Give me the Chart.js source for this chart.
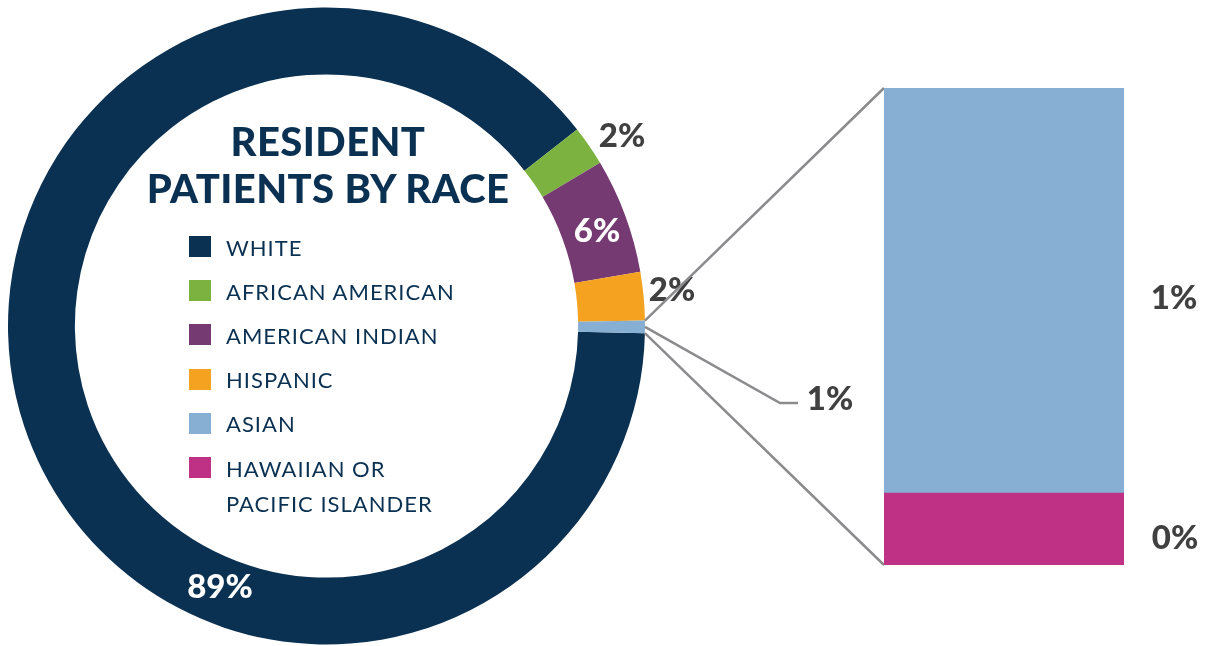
<!DOCTYPE html>
<html>

<head>
    <meta charset="utf-8">
    <script src="https://cdn.jsdelivr.net/npm/chart.js@4.4.0/dist/chart.umd.min.js"></script>
    <style>
        body { margin: 0; background: #fff; }
        #wrap { position: relative; width: 1209px; height: 646px; overflow: hidden; font-family: Lato, sans-serif; }
        #pieBox { position: absolute; left: 0; top: 0; width: 1209px; height: 646px; }
        #barBox { position: absolute; left: 884px; top: 88px; width: 240px; height: 477px; }
        #title { position: absolute; left: 128px; width: 400px; top: 118px; text-align: center;
            color: #0b3152; font-weight: 900; font-size: 40px; line-height: 47px; letter-spacing: 0.4px; }
        #legend { position: absolute; left: 189px; top: 236px; color: #0b3152; font-size: 22px; }
        .item { position: absolute; left: 0; width: 300px; height: 44px; letter-spacing: 1px; }
        .item .sw { position: absolute; left: 0; top: 0; width: 22px; height: 21px; }
        .item .txt { position: absolute; left: 37px; top: -6.5px; line-height: 35px; white-space: nowrap; }
    </style>
</head>

<body>
    <div id="wrap">
        <div id="pieBox"><canvas id="pieChart"></canvas></div>
        <div id="barBox"><canvas id="barChart"></canvas></div>
        <div id="title">RESIDENT<br>PATIENTS BY RACE</div>
        <div id="legend"></div>
    </div>
    <script>
        // legend entries
        const legendNames = ["WHITE", "AFRICAN AMERICAN", "AMERICAN INDIAN", "HISPANIC", "ASIAN", "HAWAIIAN OR<br>PACIFIC ISLANDER"];
        const legendColors = ["#0b3152", "#7cb23f", "#753a72", "#f4a21f", "#86afd3", "#be3184"];

        // doughnut: last slice is asian + hawaiian together
        const pieLabels = ["White", "African American", "American Indian", "Hispanic", "Asian / Hawaiian"];
        const pieValues = [89.05, 2.03, 5.83, 2.46, 0.63];
        const pieColors = ["#0b3152", "#7cb23f", "#753a72", "#f4a21f", "#86afd3"];

        // split bar of the small slice
        const barLabels = ["Hawaiian or Pacific Islander", "Asian"];
        const barValues = [0.095, 0.535];
        const barColors = ["#be3184", "#86afd3"];

        const pct = v => Math.round(v) + "%";

        // build the legend
        let legendHtml = "";
        for (let i = 0; i < legendNames.length; i++) {
            legendHtml += '<div class="item" style="top:' + (i * 44.2) + 'px"><span class="sw" style="background:' + legendColors[i] +
                '"></span><div class="txt">' + legendNames[i] + '</div></div>';
        }
        document.getElementById("legend").innerHTML = legendHtml;

        const bar = { left: 884, top: 88, bottom: 565, right: 1124 };

        const labelPlugin = {
            id: "sliceLabels",
            afterDraw(chart) {
                const ctx = chart.ctx;
                const arcs = chart.getDatasetMeta(0).data;
                ctx.save();
                ctx.font = "900 33px Lato";
                ctx.textBaseline = "middle";
                ctx.textAlign = "center";

                // labels: white ones on the ring, dark ones outside
                ctx.fillStyle = "#ffffff";
                ctx.fillText(pct(pieValues[0]), 220, 587);
                ctx.fillText(pct(pieValues[2]), 597, 231);
                ctx.fillStyle = "#404040";
                ctx.fillText(pct(pieValues[1]), 622, 136);
                ctx.fillText(pct(pieValues[3]), 672, 290);

                // connectors from the small slice to the bar
                const a = arcs[4];
                const R = a.outerRadius;
                const x0 = a.x + R * Math.cos(a.startAngle), y0 = a.y + R * Math.sin(a.startAngle);
                const x1 = a.x + R * Math.cos(a.endAngle), y1 = a.y + R * Math.sin(a.endAngle);
                const mid = (a.startAngle + a.endAngle) / 2;
                ctx.strokeStyle = "#8b8b8e";
                ctx.lineWidth = 2.5;
                ctx.beginPath();
                ctx.moveTo(x0, y0); ctx.lineTo(bar.left, bar.top);
                ctx.moveTo(x1, y1); ctx.lineTo(bar.left, bar.bottom);
                ctx.moveTo(a.x + R * Math.cos(mid), a.y + R * Math.sin(mid));
                ctx.lineTo(780, 403); ctx.lineTo(798, 403);
                ctx.stroke();

                ctx.fillText(pct(pieValues[4]), 830, 399);
                ctx.fillText(pct(barValues[1]), 1174, 298);
                ctx.fillText(pct(barValues[0]), 1175, 538);
                ctx.restore();
            }
        };

        new Chart(document.getElementById("pieChart"), {
            type: "doughnut",
            data: {
                labels: pieLabels,
                datasets: [{
                    data: pieValues,
                    backgroundColor: pieColors,
                    borderWidth: 0
                }]
            },
            options: {
                responsive: true,
                maintainAspectRatio: false,
                animation: false,
                rotation: 91.3,
                cutout: "79%",
                layout: { padding: { left: 8, top: 7.5, right: 564, bottom: 1.5 } },
                plugins: {
                    legend: { display: false },
                    tooltip: { enabled: false }
                }
            },
            plugins: [labelPlugin]
        });

        new Chart(document.getElementById("barChart"), {
            type: "bar",
            data: {
                labels: [""],
                datasets: barValues.map((v, i) => ({
                    label: barLabels[i],
                    data: [v],
                    backgroundColor: barColors[i],
                    borderWidth: 0,
                    barPercentage: 1,
                    categoryPercentage: 1
                }))
            },
            options: {
                responsive: true,
                maintainAspectRatio: false,
                animation: false,
                layout: { padding: 0 },
                scales: {
                    x: { display: false, stacked: true },
                    y: { display: false, stacked: true, min: 0, max: 0.63 }
                },
                plugins: {
                    legend: { display: false },
                    tooltip: { enabled: false }
                }
            }
        });
    </script>
</body>

</html>
